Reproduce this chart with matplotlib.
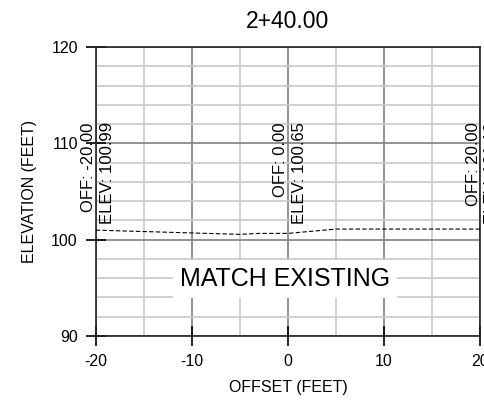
import matplotlib
matplotlib.use('Agg')
import matplotlib.pyplot as plt
import numpy as np

plt.rcParams['font.family'] = ['Liberation Sans', 'DejaVu Sans']
plt.rcParams['axes.unicode_minus'] = False

# ground profile
offsets = [-20, -5, -3, 0, 5, 20]
elevs = [100.99, 100.55, 100.65, 100.65, 101.10, 101.10]

# labelled points
label_offsets = [-20, 0, 20]
label_elevs = [100.99, 100.65, 101.10]

station = '2+40.00'
note = 'MATCH EXISTING'

fig = plt.figure(figsize=(4.84, 4.04), dpi=100)
ax = fig.add_axes([0.198, 0.1683, 0.794, 0.7154])

ax.plot(offsets, elevs, color='black', lw=0.8, linestyle=(0, (4, 2)), zorder=3)

ax.set_xlim(-20, 20)
ax.set_ylim(90, 120)
ax.set_xticks(np.arange(-20, 21, 10))
ax.set_xticks(np.arange(-20, 21, 5), minor=True)
ax.set_yticks(np.arange(90, 121, 10))
ax.set_yticks(np.arange(90, 121, 2), minor=True)

ax.grid(True, which='major', color='#808080', lw=1.2, zorder=1)
ax.grid(True, which='minor', color='#c8c8c8', lw=1.2, zorder=0)
ax.tick_params(which='major', direction='inout', length=14, width=1.2, labelsize=11.5, pad=6)
ax.tick_params(which='minor', length=0)
for s in ax.spines.values():
    s.set_linewidth(1.2)
    s.set_color('#222222')

for x, e in zip(label_offsets, label_elevs):
    ax.annotate('OFF: %.2f' % x, (x, 112.2), xytext=(-1.8, 0), textcoords='offset points',
                rotation=90, rotation_mode='anchor', ha='right', va='baseline',
                fontsize=12, zorder=4, annotation_clip=False)
    ax.annotate('ELEV: %.2f' % e, (x, 112.2), xytext=(11.5, 0), textcoords='offset points',
                rotation=90, rotation_mode='anchor', ha='right', va='baseline',
                fontsize=12, zorder=4, annotation_clip=False)

ax.text(-0.3, 95.9, note, ha='center', va='center', fontsize=18, zorder=4,
        bbox=dict(facecolor='white', edgecolor='none', pad=5))

ax.set_title(station, fontsize=16.5, pad=14)
ax.set_xlabel('OFFSET (FEET)', fontsize=11.5, labelpad=8)
ax.set_ylabel('ELEVATION (FEET)', fontsize=11.5, labelpad=10)

fig.savefig('out.png', dpi=100)
